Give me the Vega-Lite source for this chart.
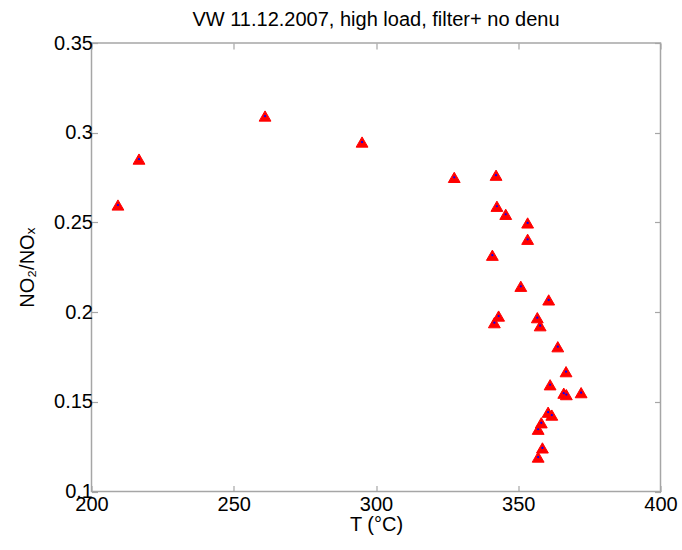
{
  "$schema": "https://vega.github.io/schema/vega-lite/v6.json",
  "width": 569,
  "height": 448.5,
  "autosize": "none",
  "padding": {"left": 91.5, "top": 43, "right": 21.5, "bottom": 58.5},
  "background": "white",
  "title": {
    "text": "VW 11.12.2007, high load, filter+ no denu",
    "font": "Liberation Sans",
    "fontSize": 20,
    "fontWeight": "normal",
    "color": "#000000",
    "offset": 3
  },
  "config": {
    "view": {"stroke": "#a6a6a6", "strokeWidth": 1.5},
    "axis": {
      "labelFont": "Liberation Sans",
      "labelFontSize": 20,
      "labelColor": "#000000",
      "titleFont": "Liberation Sans",
      "titleFontSize": 20,
      "titleFontWeight": "normal",
      "titleColor": "#000000",
      "tickColor": "#a6a6a6",
      "tickWidth": 1.2,
      "tickSize": -6,
      "domain": false,
      "grid": false,
      "labelFlush": false,
      "labelOverlap": false
    }
  },
  "data": {
    "values": [
      {"T": 209.3, "R": 0.2597},
      {"T": 216.7, "R": 0.2853},
      {"T": 261.0, "R": 0.3093},
      {"T": 295.1, "R": 0.2948},
      {"T": 327.5, "R": 0.2751},
      {"T": 342.2, "R": 0.2763},
      {"T": 342.5, "R": 0.2590},
      {"T": 345.6, "R": 0.2545},
      {"T": 353.3, "R": 0.2497},
      {"T": 353.3, "R": 0.2406},
      {"T": 340.9, "R": 0.2317},
      {"T": 350.9, "R": 0.2144},
      {"T": 360.7, "R": 0.2068},
      {"T": 343.1, "R": 0.1978},
      {"T": 341.6, "R": 0.1941},
      {"T": 356.7, "R": 0.1969},
      {"T": 357.7, "R": 0.1924},
      {"T": 363.9, "R": 0.1807},
      {"T": 366.8, "R": 0.1668},
      {"T": 361.2, "R": 0.1595},
      {"T": 366.0, "R": 0.1548},
      {"T": 366.9, "R": 0.1540},
      {"T": 372.1, "R": 0.1551},
      {"T": 360.5, "R": 0.1442},
      {"T": 361.8, "R": 0.1426},
      {"T": 358.1, "R": 0.1383},
      {"T": 357.0, "R": 0.1347},
      {"T": 358.5, "R": 0.1243},
      {"T": 357.0, "R": 0.1192}
    ]
  },
  "layer": [
    {
      "mark": {"type": "point", "shape": "triangle-up", "filled": true, "fill": "#ff0000", "stroke": "#ff0000", "strokeWidth": 1, "size": 140, "opacity": 1},
      "encoding": {
        "x": {
          "field": "T", "type": "quantitative",
          "scale": {"domain": [200, 400], "nice": false, "zero": false},
          "axis": {"orient": "bottom", "values": [200, 250, 300, 350, 400], "title": "T (°C)", "labelPadding": 9, "titlePadding": 0}
        },
        "y": {
          "field": "R", "type": "quantitative",
          "scale": {"domain": [0.1, 0.35], "nice": false, "zero": false},
          "axis": {"orient": "left", "values": [0.1, 0.15, 0.2, 0.25, 0.3, 0.35], "format": "~g", "title": "NO₂/NOₓ", "labelPadding": 5, "titlePadding": 16}
        }
      }
    },
    {
      "mark": {"type": "point", "shape": "circle", "filled": true, "fill": "#0000ff", "size": 5, "opacity": 1, "strokeWidth": 0},
      "encoding": {
        "x": {
          "field": "T", "type": "quantitative",
          "axis": {"orient": "top", "values": [200, 250, 300, 350, 400], "labels": false, "title": null}
        },
        "y": {
          "field": "R", "type": "quantitative",
          "axis": {"orient": "right", "values": [0.1, 0.15, 0.2, 0.25, 0.3, 0.35], "labels": false, "title": null}
        }
      }
    }
  ],
  "resolve": {"axis": {"x": "independent", "y": "independent"}}
}
